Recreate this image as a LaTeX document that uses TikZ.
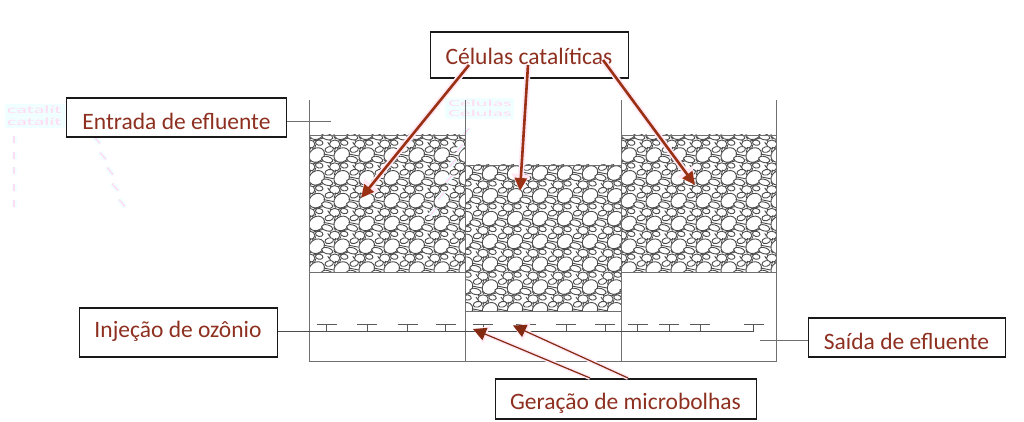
\documentclass[tikz,border=0pt]{standalone}
\usepackage{graphicx}
\usepackage{fontspec}
\setmainfont{Carlito}
\usetikzlibrary{arrows.meta}
\definecolor{labelred}{HTML}{8E3020}
\definecolor{arrowred}{HTML}{9A3014}
\definecolor{halo}{HTML}{FFE8F4}
\definecolor{wallgray}{HTML}{707070}
\definecolor{ghostpink}{HTML}{FFDCF4}
\definecolor{ghostcyan}{HTML}{F0FFFF}
\tikzset{
  x=1pt,y=-1pt,
  labelbox/.style={draw=black!90,fill=white,line width=1.6pt,inner sep=0pt,anchor=north west},
  labeltext/.style={text=labelred,font=\fontsize{23.5}{25}\selectfont,inner sep=0pt},
  wall/.style={draw=wallgray,line width=0.95pt},
  lead/.style={draw=wallgray,line width=0.8pt},
  pipeline/.style={draw=black!70,line width=0.9pt},
  tee/.style={draw=black!65,line width=0.8pt},
  stone/.style={draw=black!70,line width=0.9pt,fill=white},
  bigarrow/.style={draw=arrowred,line width=2.6pt,-{Triangle[length=13pt,width=12pt]},
     preaction={draw=halo,line width=6pt,-{Triangle[length=17pt,width=18pt]}}},
  thinarrow/.style={draw=arrowred!85!black,line width=1.2pt,-{Triangle[length=13pt,width=13pt]},
     preaction={draw=halo,line width=4pt,-{Triangle[length=15pt,width=18pt]}}},
  ghost/.style={text=ghostpink,font=\fontsize{22}{22}\selectfont,inner sep=0pt},
  ghostdash/.style={draw=ghostpink,line width=1.5pt,preaction={draw=ghostcyan,line width=5pt}},
}
% one repeating tile of the stone packing, centred on its large stone
\newcommand{\stonetile}[2]{%
  \begin{scope}[shift={(#1,#2)}]
    \draw[draw=black!70,line width=0.9pt] (-6,-8) -- (-7.5,-2.5) (-8,4) -- (-6,7) (-1,8) -- (-3,6.5)
       (-14,10) -- (-12,13) (-2,16) -- (-1,13) (-18,-1) -- (-8,1) (-4,9) -- (6,6) (-12,8) -- (-3,17);
    \draw[stone,rotate around={35:(0,0)}] (0,0) ellipse[x radius=8.2,y radius=6.8];
    \draw[stone] (-7,12) ellipse[x radius=5.2,y radius=4.2];
    \draw[stone,rotate around={-15:(-14.5,4.5)}] (-14.5,4.5) ellipse[x radius=5.8,y radius=3];
    \draw[stone,rotate around={15:(-12.5,-5.5)}] (-12.5,-5.5) ellipse[x radius=4.4,y radius=2.8];
    \draw[stone,rotate around={-10:(2.5,10.5)}] (2.5,10.5) ellipse[x radius=3.8,y radius=2.6];
  \end{scope}}
% packed bed: left, top, right, bottom, tile origin x, tile origin y
\newcommand{\stonebed}[6]{%
  \begin{scope}
    \clip (#1,#2) rectangle (#3,#4);
    \foreach \cx in {-1,...,7}{\foreach \cy in {-1,...,7}{%
      \pgfmathsetmacro{\px}{#5+25*\cx}\pgfmathsetmacro{\py}{#6+22.8*\cy}%
      \stonetile{\px}{\py}}}
  \end{scope}}
\begin{document}
\begin{tikzpicture}
\useasboundingbox[fill=white] (0,0) rectangle (1024,422);

% faint ghost marks
\fill[ghostcyan] (5,104) rectangle (65,128);
\fill[ghostcyan] (445,98) rectangle (514,119);
\node[ghost,anchor=west] (g1a) at (7,110) {\scalebox{1}[.5]{catalít}};
\node[ghost,anchor=west] (g1b) at (7,122) {\scalebox{1}[.5]{catalít}};
\node[ghost] (g2a) at (480,103) {\scalebox{1}[.42]{Células}};
\node[ghost] (g2b) at (480,113) {\scalebox{1}[.42]{Células}};
\foreach \gy in {140,156,171,187,203}{\draw[ghostdash] (14,\gy-3.5) -- (14,\gy+3.5);}
\foreach \gx/\gy in {97/140,103/156,110/171,115/187,122/203}{\draw[ghostdash] (\gx-3,\gy-3.5) -- (\gx+3,\gy+3.5);}

% stone beds
\stonebed{309}{135}{465}{272}{316.7}{155}
\stonebed{465}{165}{621}{311}{490}{173}
\stonebed{621}{135}{776}{272}{628.7}{155}

\foreach \gx/\gy in {466/132,460/148,453/163,449/179,441/196,433/212}{\draw[ghostdash] (\gx+3,\gy-3.5) -- (\gx-3,\gy+3.5);}

% bed outlines
\draw[wall,line width=0.9pt] (309,135) -- (465,135) (465,165) -- (621,165) (621,135) -- (776,135);
\draw[wall,line width=0.9pt] (309,272) -- (465,272) (465,311) -- (621,311) (621,272) -- (776,272);

% tank walls
\draw[wall] (309,100) -- (309,361) -- (776,361) -- (776,100);
\draw[wall] (465,100) -- (465,361);
\draw[wall] (621,100) -- (621,361);

% labels
\node[labelbox,minimum width=198pt,minimum height=46pt] (cel) at (429.5,31) {};
\node[labeltext] (celt) at (529,56) {Células catalíticas};
\node[labelbox,minimum width=220pt,minimum height=39pt] (ent) at (65.5,97) {};
\node[labeltext] (entt) at (176.5,121) {Entrada de efluente};
\node[labelbox,minimum width=198pt,minimum height=49pt] (inj) at (78.5,307) {};
\node[labeltext] (injt) at (178,331) {Injeção de ozônio};
\node[labelbox,minimum width=197pt,minimum height=39pt] (sai) at (807.5,317) {};
\node[labeltext] (sait) at (906.5,341) {Saída de efluente};
\node[labelbox,minimum width=261pt,minimum height=40pt] (ger) at (494.5,378) {};
\node[labeltext] (gert) at (625.5,403) {Geração de microbolhas};

% lead lines
\coordinate (entEnd) at (331,121);
\coordinate (saiEnd) at (760,340.5);
\coordinate (pipeEnd) at (753.7,331);
\coordinate (pipeTop) at (753.7,324);
\draw[lead] (ent.east |- entEnd) -- (entEnd);
\draw[lead] (sai.west |- saiEnd) -- (saiEnd);
\draw[pipeline] (inj.east |- pipeEnd) -- (pipeEnd) -- (pipeTop);

% diffusers
\foreach \tx in {326.7,367,407.7,445.7,483,526,566,605,637.7,669.3,700.3}{
  \draw[tee] (\tx,331) -- (\tx,324);
  \draw[tee] (\tx-10,324) -- (\tx+10,324);
}
\draw[tee] (743.7,324) -- (763.7,324);

% arrows
\coordinate (c1) at (469,65);
\coordinate (c2) at (528,65);
\coordinate (c3) at (603,60);
\coordinate (t1) at (361,198);
\coordinate (t2) at (520,191);
\coordinate (t3) at (695,185);
\coordinate (g1) at (590,378);
\coordinate (g2) at (628,378);
\coordinate (b1) at (473,329);
\coordinate (b2) at (513,325.5);
\draw[bigarrow] (c1) -- (t1);
\draw[bigarrow] (c2) -- (t2);
\draw[bigarrow] (c3) -- (t3);
\draw[thinarrow] (g1) -- (b1);
\draw[thinarrow] (g2) -- (b2);
\end{tikzpicture}
\end{document}
